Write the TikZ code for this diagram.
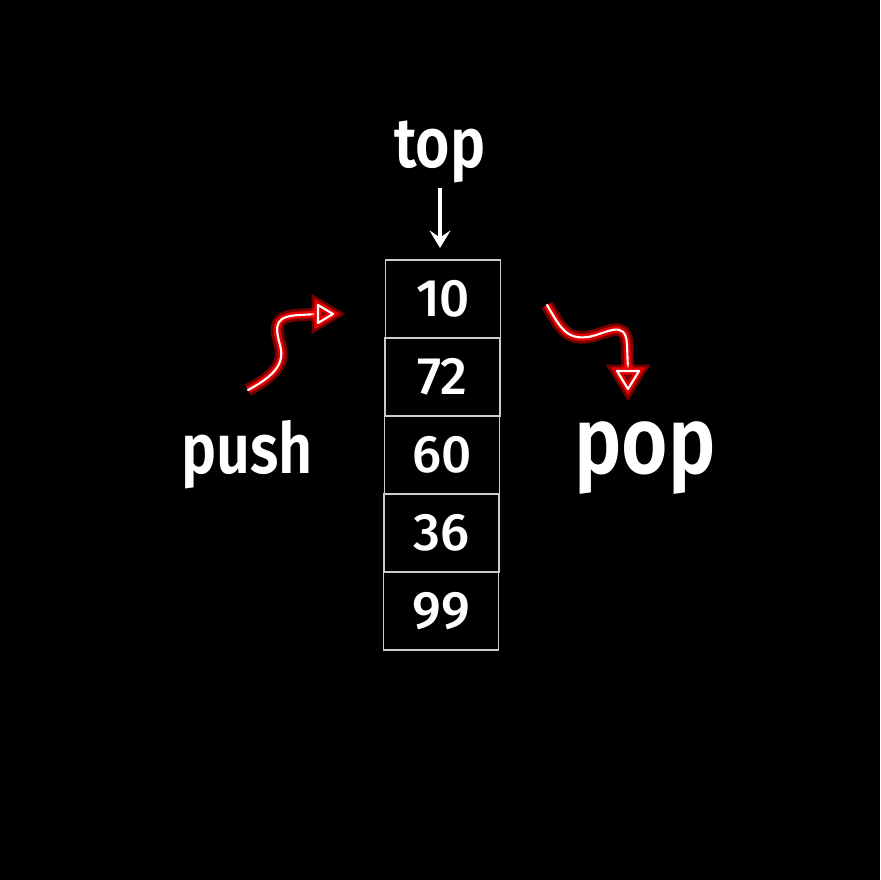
\documentclass[tikz,border=0pt]{standalone}
\usepackage{fontspec}
\setmainfont{Fira Sans SemiBold}[FakeStretch = 0.84]
\newfontfamily\digitfont{Fira Sans Medium}
\usetikzlibrary{arrows.meta}

\begin{document}
\begin{tikzpicture}[x = 0.01cm, y = -0.01cm,
	cell/.style = {draw = white!80!black, line width = 0.45pt, minimum width = 1.15cm, minimum height = 0.78cm, inner sep = 0pt, outer sep = 0pt, text = white, font = \digitfont\fontsize{15}{15}\selectfont},
	word/.style = {text = white, anchor = base, inner sep = 0pt},
	glow/.style = {preaction = {draw = red, line width = 3.6pt, opacity = 0.45}, preaction = {draw = red!90!black, line width = 2pt}, draw = white, line width = 0.6pt, line cap = round, line join = round}]%stack
	\fill[black] (0,0) rectangle (880,880);
	\foreach \v/\xc [count = \i] in {10/443,72/442.5,60/442,36/441.5,99/441}
		\node[cell] (c\i) at (\xc, 221 + 78*\i) {\v};
	\node[word, font = \fontsize{20}{20}\selectfont] (top) at (440,168) {top};
	\node[word, font = \fontsize{20}{20}\selectfont] (push) at (247,474) {push};
	\node[word, font = \fontsize{27}{27}\selectfont] (pop) at (645,474) {pop};
	\draw[white, line width = 1pt, -{Stealth[length = 5pt, width = 6pt, inset = 2pt]}, shorten < = 1pt, shorten > = 3.4pt]
	(top.south) -- (top.south |- c1.north);
	\coordinate (pushtail) at (248,390);
	\coordinate (pushtip) at (333,314);
	\coordinate (poptail) at (547,305);
	\coordinate (poptip) at (628,389);
	\draw[glow]
	(pushtail) .. controls (270,378) and (286,366) .. (280,345) .. controls (274,324) and (276,316) .. (300,315) -- (318,314);
	\draw[glow]
	(pushtip) -- ++(-15,-9) -- ++(0,18) -- cycle;
	\draw[glow]
	(poptail) .. controls (560,327) and (566,340) .. (588,337) .. controls (606,334) and (626,318) .. (627,345) -- (628,371);
	\draw[glow]
	(poptip) -- ++(-11,-18) -- ++(22,0) -- cycle;
\end{tikzpicture}
\end{document}
